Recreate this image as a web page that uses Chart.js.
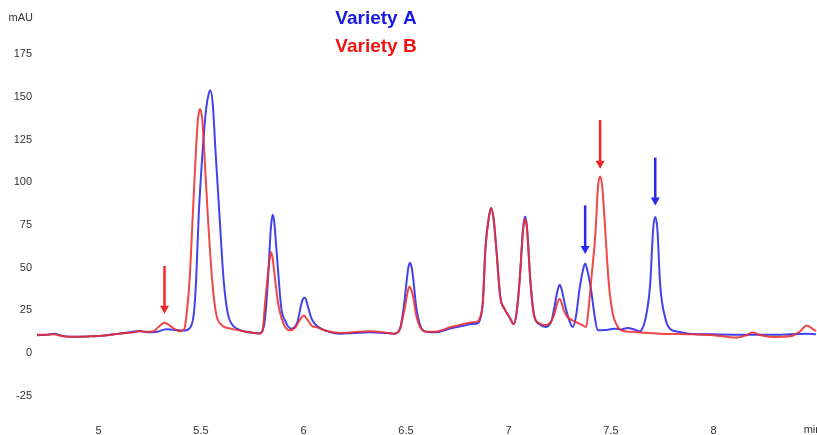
<!DOCTYPE html>
<html>
<head>
<meta charset="utf-8">
<script src="https://cdn.jsdelivr.net/npm/chart.js@4"></script>
<style>
  body { margin: 0; background: #fff; }
  #wrap { width: 817px; height: 435px; position: relative; }
</style>
</head>
<body>
<div id="wrap"><canvas id="chromChart"></canvas></div>
<script>
// retention time (min) and absorbance (mAU)
const timeA = [4.70, 4.75, 4.785, 4.82, 4.86, 4.95, 5.03, 5.10, 5.16, 5.20, 5.24, 5.28, 5.33, 5.38, 5.42,
  5.444, 5.465, 5.476, 5.489, 5.509, 5.525, 5.535, 5.545, 5.558, 5.570, 5.590, 5.611, 5.631, 5.65, 5.68, 5.72, 5.76,
  5.785, 5.80, 5.81, 5.82, 5.83, 5.84, 5.85, 5.858, 5.866, 5.875, 5.891, 5.91, 5.94, 5.97, 5.99, 5.998, 6.005, 6.012,
  6.02, 6.04, 6.062, 6.10,
  6.18, 6.25, 6.32, 6.40, 6.44, 6.47, 6.49, 6.505, 6.512, 6.52, 6.528, 6.535, 6.55, 6.57, 6.60, 6.65, 6.70, 6.73,
  6.78, 6.82, 6.85, 6.862, 6.875, 6.888, 6.905, 6.915, 6.927, 6.94, 6.96, 6.98, 7.005, 7.026, 7.04, 7.054, 7.072,
  7.081, 7.09, 7.107, 7.125, 7.15, 7.183, 7.21, 7.224, 7.24, 7.25, 7.26, 7.278, 7.30, 7.314, 7.33, 7.346, 7.364,
  7.374, 7.384, 7.403, 7.42, 7.435, 7.47, 7.517, 7.55, 7.58, 7.61, 7.639, 7.668, 7.691, 7.706, 7.716, 7.726, 7.74,
  7.766, 7.79, 7.83, 7.88, 8.0, 8.15, 8.30, 8.45, 8.5];
const varietyA = [10.5, 10.8, 11.3, 10.2, 9.6, 9.8, 10.3, 11.4, 12.3, 13, 12.2, 12.3, 14, 13.6, 13.2,
  14.5, 23, 42, 81, 120, 143, 150.5, 154, 145, 120, 81, 42, 23, 17, 14, 12.5, 11.8,
  11.6, 13, 18, 31, 50, 72, 81, 76, 64, 50, 27, 19, 14.3, 18, 29, 31.8, 32.4, 31.5,
  28, 20, 16.3, 13.5,
  11.4, 11.8, 12.2, 11.8, 11.4, 14, 28, 44, 50.5, 52.7, 50, 44, 27, 16, 12.5, 12.2, 13.8, 14.8,
  16, 17, 17.5, 20, 30, 62, 80, 85, 79, 62, 33, 26, 21, 17, 24, 42, 74,
  80, 74, 42, 22, 17, 15.3, 19, 27, 37, 40, 37, 27, 18, 15.3, 22, 37, 49,
  52.5, 49, 37, 22, 13.4, 13.5, 14.3, 13.8, 14.7, 14, 12.8, 20, 40, 73, 79.7, 73, 40,
  20, 14, 12.5, 11.4, 11, 10.8, 10.8, 11.4, 11];

const timeB = [4.70, 4.75, 4.785, 4.82, 4.86, 4.95, 5.03, 5.10, 5.16, 5.20, 5.24, 5.265, 5.29, 5.322, 5.35,
  5.38, 5.40, 5.42, 5.43, 5.444, 5.46, 5.476, 5.486, 5.496, 5.506, 5.515, 5.533, 5.555, 5.574, 5.60, 5.64, 5.70, 5.76,
  5.785, 5.80, 5.813, 5.828, 5.835, 5.842, 5.849, 5.857, 5.875, 5.90, 5.932, 5.96, 5.985, 6.0, 6.02, 6.04, 6.07, 6.10,
  6.18, 6.25, 6.32, 6.40, 6.44, 6.47, 6.49, 6.505, 6.51, 6.518, 6.526, 6.535, 6.55, 6.57, 6.60, 6.65, 6.70, 6.73,
  6.78, 6.82, 6.85, 6.862, 6.875, 6.888, 6.905, 6.915, 6.927, 6.94, 6.96, 6.98, 7.005, 7.026, 7.04, 7.054, 7.072,
  7.081, 7.09, 7.107, 7.125, 7.15, 7.183, 7.21, 7.224, 7.24, 7.249, 7.258, 7.27, 7.289, 7.33, 7.362, 7.379, 7.39,
  7.403, 7.424, 7.437, 7.447, 7.457, 7.473, 7.49, 7.509, 7.53, 7.55, 7.60, 7.74, 7.90, 8.0, 8.11, 8.16, 8.19, 8.23,
  8.29, 8.38, 8.42, 8.455, 8.48, 8.5];
const varietyB = [10.8, 10.8, 11, 10, 9.6, 9.8, 10.3, 11.4, 12, 12.8, 12.5, 12.6, 15, 17.8, 16,
  13.5, 12.8, 14.5, 23, 42, 81, 120, 138, 143, 137, 120, 81, 42, 23, 16.5, 14.5, 13, 11.8,
  11.4, 13, 30, 48, 55, 59, 56, 48, 30, 18, 13.4, 15, 20, 22, 19.5, 16, 15, 13.5,
  11.8, 12.3, 12.8, 12, 11.4, 14, 24, 34, 37, 39, 37, 33, 22, 15, 12.5, 12.6, 14.5, 15.6,
  17, 18, 18.5, 21, 30, 62, 80, 85, 79, 62, 33, 26, 21, 17, 24, 42, 73,
  78.5, 73, 42, 22, 17.5, 16.5, 19, 23, 30, 31.8, 30, 25, 21, 18.2, 16.3, 15.3, 25,
  42, 70, 98, 103.5, 98, 70, 40, 23, 16, 13.4, 12.5, 11.4, 11, 10.5, 9.1, 10.5, 12, 10.5,
  9.5, 10, 12.5, 16.1, 14.5, 12.8];

const xTicks = [5, 5.5, 6, 6.5, 7, 7.5, 8];
const yTicks = [-25, 0, 25, 50, 75, 100, 125, 150, 175];

// arrows marking the differing peaks: time, top and tip (mAU)
const arrowTimes = [5.322, 7.447, 7.374, 7.716];
const arrowTops = [51, 136.5, 86.5, 114.5];
const arrowTips = [23, 108, 58, 86.5];
const arrowSeries = ['B', 'B', 'A', 'A'];

const blue = 'rgba(50, 50, 235, 0.92)';
const red = 'rgba(238, 45, 45, 0.88)';

function toPoints(xs, ys) {
    return xs.map((x, i) => ({ x: x, y: ys[i] }));
}

const annotations = {
    id: 'annotations',
    afterDraw(chart) {
        const ctx = chart.ctx;
        const xs = chart.scales.x;
        const ys = chart.scales.y;
        ctx.save();

        // arrows
        arrowTimes.forEach((t, i) => {
            const col = arrowSeries[i] === 'A' ? 'rgb(40, 40, 235)' : 'rgb(238, 40, 40)';
            const px = xs.getPixelForValue(t);
            const y0 = ys.getPixelForValue(arrowTops[i]);
            const y1 = ys.getPixelForValue(arrowTips[i]);
            ctx.strokeStyle = col;
            ctx.fillStyle = col;
            ctx.lineWidth = 2.5;
            ctx.beginPath();
            ctx.moveTo(px, y0);
            ctx.lineTo(px, y1 - 6);
            ctx.stroke();
            ctx.beginPath();
            ctx.moveTo(px - 4.5, y1 - 8);
            ctx.lineTo(px + 4.5, y1 - 8);
            ctx.lineTo(px, y1);
            ctx.closePath();
            ctx.fill();
        });

        // legend-like titles
        ctx.font = 'bold 19px "Liberation Sans", Arial, sans-serif';
        ctx.textAlign = 'center';
        ctx.textBaseline = 'middle';
        ctx.fillStyle = 'rgb(25, 25, 230)';
        ctx.fillText('Variety A', 376, 19);
        ctx.fillStyle = 'rgb(240, 20, 20)';
        ctx.fillText('Variety B', 376, 47);

        // axis units
        ctx.font = '11px "Liberation Sans", Arial, sans-serif';
        ctx.fillStyle = '#333';
        ctx.textAlign = 'right';
        ctx.fillText('mAU', chart.chartArea.left - 4, 18);
        ctx.textAlign = 'left';
        ctx.fillText('min', xs.getPixelForValue(8.44), 430);
        ctx.restore();
    }
};

new Chart(document.getElementById('chromChart').getContext('2d'), {
    type: 'line',
    data: {
        datasets: [{
            label: 'Variety A',
            data: toPoints(timeA, varietyA),
            borderColor: blue,
            borderWidth: 2,
            pointRadius: 0,
            cubicInterpolationMode: 'monotone',
            fill: false,
            order: 2
        }, {
            label: 'Variety B',
            data: toPoints(timeB, varietyB),
            borderColor: red,
            borderWidth: 2,
            pointRadius: 0,
            cubicInterpolationMode: 'monotone',
            fill: false,
            order: 1
        }]
    },
    options: {
        responsive: true,
        maintainAspectRatio: false,
        animation: false,
        layout: { padding: { top: 9, left: 0, right: 0, bottom: 0 } },
        plugins: {
            legend: { display: false },
            tooltip: { enabled: false }
        },
        scales: {
            x: {
                type: 'linear',
                min: 4.7,
                max: 8.505,
                grid: { display: false, drawTicks: false },
                border: { display: false },
                afterBuildTicks: axis => { axis.ticks = xTicks.map(v => ({ value: v })); },
                afterFit: axis => { axis.height = 17; },
                ticks: {
                    color: '#333',
                    padding: 6,
                    maxRotation: 0,
                    autoSkip: false,
                    font: { family: '"Liberation Sans", Arial, sans-serif', size: 11 },
                    callback: v => String(v)
                }
            },
            y: {
                min: -38,
                max: 200,
                grid: { display: false, drawTicks: false },
                border: { display: false },
                afterBuildTicks: axis => { axis.ticks = yTicks.map(v => ({ value: v })); },
                afterFit: axis => { axis.width = 37; },
                ticks: {
                    color: '#333',
                    padding: 5,
                    font: { family: '"Liberation Sans", Arial, sans-serif', size: 11 }
                }
            }
        }
    },
    plugins: [annotations]
});
</script>
</body>
</html>
